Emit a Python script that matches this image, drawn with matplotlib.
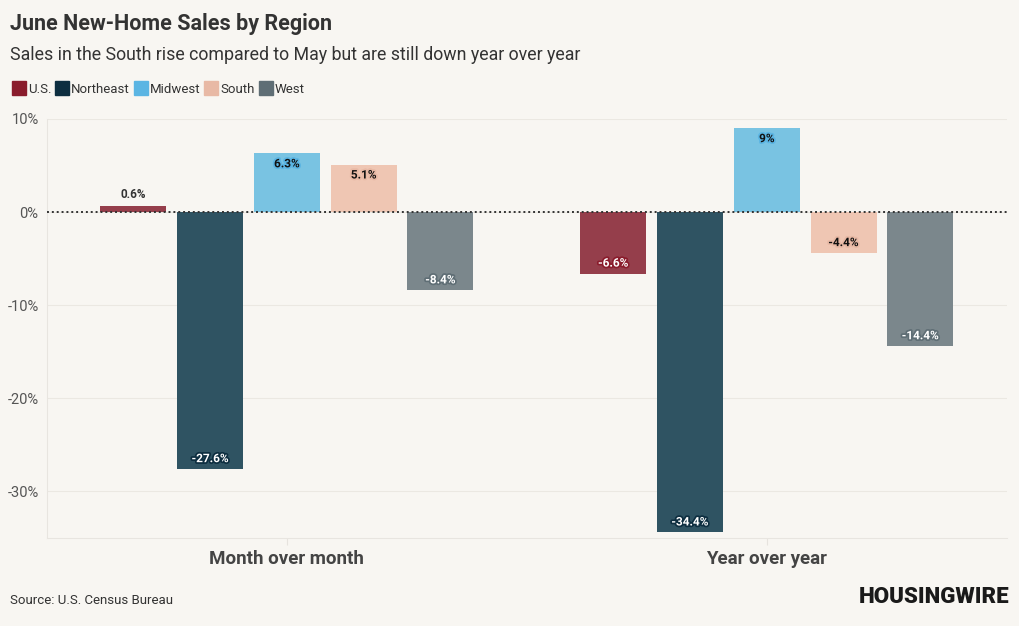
import matplotlib.pyplot as plt
import matplotlib.patheffects as pe
import numpy as np
from matplotlib.lines import Line2D

# data
periods = ["Month over month", "Year over year"]
regions = ["U.S.", "Northeast", "Midwest", "South", "West"]
us = [0.6, -6.6]
northeast = [-27.6, -34.4]
midwest = [6.3, 9.0]
south = [5.1, -4.4]
west = [-8.4, -14.4]
label_text = [["0.6%", "-6.6%"], ["-27.6%", "-34.4%"], ["6.3%", "9%"],
              ["5.1%", "-4.4%"], ["-8.4%", "-14.4%"]]

bar_colors = ["#953e4b", "#2f5362", "#79c3e2", "#efc6b3", "#7b878c"]
swatch_colors = ["#8a1c2c", "#0d2e40", "#5bb5e3", "#e8b9a5", "#5f6e75"]
text_colors = ["white", "white", "#111111", "#111111", "white"]

bg = "#f8f6f2"
plt.rcParams['font.family'] = ['Roboto', 'DejaVu Sans']

fig = plt.figure(figsize=(10.2, 6.26), dpi=100, facecolor=bg)
ax = fig.add_axes([0.046, 0.1406, 0.941, 0.6694], facecolor=bg)

series = [us, northeast, midwest, south, west]
x = np.arange(len(periods))
width = 0.1375
step = 0.16

for i, vals in enumerate(series):
    xs = x + (i - 2) * step
    ax.bar(xs, vals, width=width, color=bar_colors[i], zorder=2)
    for xi, v, t in zip(xs, vals, label_text[i]):
        if abs(v) < 3:
            ax.annotate(t, (xi, v), xytext=(0, 4), textcoords="offset points",
                        ha="center", va="bottom", fontsize=8.5, fontweight="bold",
                        color="#333333", zorder=4)
        else:
            off = -7.5 if v > 0 else 7.5
            ax.annotate(t, (xi, v), xytext=(0, off), textcoords="offset points",
                        ha="center", va="center", fontsize=8.5, fontweight="bold",
                        color=text_colors[i], zorder=4,
                        path_effects=[pe.withStroke(linewidth=2.5, foreground=swatch_colors[i])])

ax.axhline(0, color="#333333", linestyle=(0, (1, 1.5)), linewidth=1.4, zorder=3)
ax.set_ylim(-35, 10)
ax.set_xlim(-0.5, 1.5)
ax.set_yticks([10, 0, -10, -20, -30])
ax.set_yticklabels(["10%", "0%", "-10%", "-20%", "-30%"])
ax.grid(axis="y", color="#ebe8e2", linewidth=0.8, zorder=0)
ax.set_xticks(x)
ax.set_xticklabels(periods, fontsize=13.5, fontweight="bold", color="#444444")
ax.tick_params(axis="x", length=5, color="#e6e3de", pad=4)
ax.tick_params(axis="y", length=0, labelsize=10.5, labelcolor="#555555", pad=6)
for s in ["top", "right"]:
    ax.spines[s].set_visible(False)
ax.spines["left"].set_color("#e8e5e0")
ax.spines["bottom"].set_color("#e8e5e0")

fig.text(0.01, 0.962, "June New-Home Sales by Region", fontsize=15.5, fontweight="bold",
         color="#333333", va="center")
fig.text(0.01, 0.912, "Sales in the South rise compared to May but are still down year over year",
         fontsize=12.8, color="#333333", va="center")

handles = [Line2D([], [], marker="s", linestyle="none", markersize=10,
                  markerfacecolor=c, markeredgecolor=c) for c in swatch_colors]
fig.legend(handles, regions, loc="center left", bbox_to_anchor=(0.002, 0.857), ncol=5,
           frameon=False, fontsize=9.5, handlelength=0.8, handletextpad=0.25,
           columnspacing=0.45, labelcolor="#333333")

fig.text(0.01, 0.04, "Source: U.S. Census Bureau", fontsize=9.5, color="#333333", va="center")
fig.text(0.99, 0.046, "HOUSINGWIRE", fontsize=16, fontweight="black", color="#1a1a1a",
         ha="right", va="center")

fig.savefig("out.png", dpi=100, facecolor=bg)
